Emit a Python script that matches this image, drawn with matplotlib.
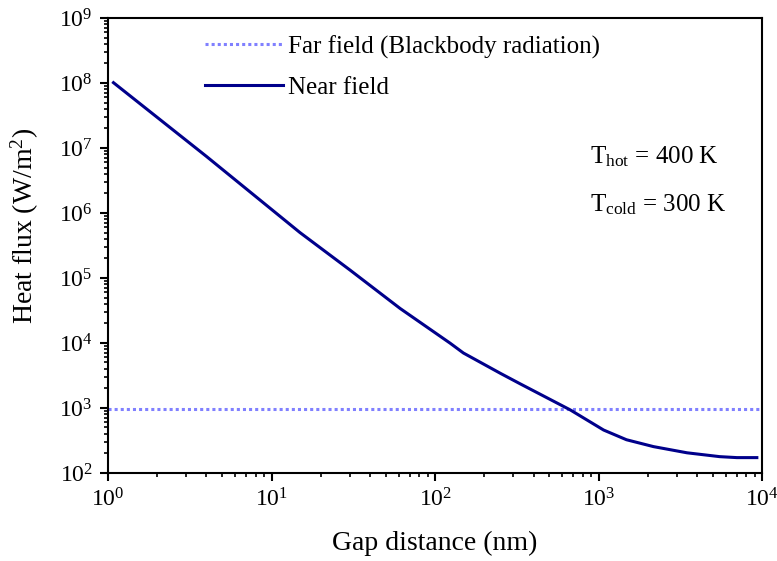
import numpy as np
import matplotlib
matplotlib.use("Agg")
import matplotlib.pyplot as plt
from matplotlib.ticker import LogLocator, NullFormatter

plt.rcParams["font.family"] = ["Liberation Serif", "DejaVu Serif"]
plt.rcParams["mathtext.fontset"] = "custom"
plt.rcParams["mathtext.rm"] = "Liberation Serif"
plt.rcParams["mathtext.default"] = "regular"

# 近场曲线
gap_nm = [1.08, 4.0, 14.9, 30.2, 61.1, 123.6, 148.9, 251, 331, 670,
          1072, 1479, 2163, 3467, 5495, 7000, 9268]
near_flux = [1.01e8, 7.4e6, 5.0e5, 1.32e5, 3.39e4, 9.9e3, 7.0e3, 3.4e3, 2.35e3, 933,
             457, 324, 254, 204, 178, 172, 172]
# 远场 (黑体辐射)
far_x = [1, 1e4]
far_flux = [950, 950]

fig = plt.figure(figsize=(7.77, 5.61), dpi=100)
ax = fig.add_axes([0.139, 0.157, 0.842, 0.811])

ax.plot(far_x, far_flux, color="#8080ff", lw=2.2, ls=(0, (1, 1)),
        label="Far field (Blackbody radiation)")
ax.plot(gap_nm, near_flux, color="#00008b", lw=2.2, label="Near field")

ax.set_xscale("log")
ax.set_yscale("log")
ax.set_xlim(1, 1e4)
ax.set_ylim(1e2, 1e9)

ax.xaxis.set_major_locator(LogLocator(base=10, numticks=10))
ax.xaxis.set_minor_locator(LogLocator(base=10, subs=np.arange(2, 10), numticks=20))
ax.yaxis.set_major_locator(LogLocator(base=10, numticks=12))
ax.yaxis.set_minor_locator(LogLocator(base=10, subs=np.arange(2, 10), numticks=20))
ax.xaxis.set_minor_formatter(NullFormatter())
ax.yaxis.set_minor_formatter(NullFormatter())

for s in ax.spines.values():
    s.set_linewidth(1.5)
ax.tick_params(which="major", direction="out", length=6, width=1.5, labelsize=17,
               pad=5, top=False, right=False)
ax.tick_params(which="minor", direction="out", length=3, width=1.2,
               top=False, right=False)

ax.set_xlabel("Gap distance (nm)", fontsize=20)
ax.set_ylabel("Heat flux (W/m$^2$)", fontsize=20)
ax.xaxis.set_label_coords(0.5, -0.128)
ax.yaxis.set_label_coords(-0.103, 0.543)

ax.text(0.736, 0.681, "T$_{hot}$ = 400 K", transform=ax.transAxes, fontsize=18,
        va="baseline")
ax.text(0.736, 0.574, "T$_{cold}$ = 300 K", transform=ax.transAxes, fontsize=18,
        va="baseline")

ax.legend(loc="upper left", bbox_to_anchor=(0.149, 0.962), frameon=False, fontsize=18,
          handlelength=3.1, handletextpad=0.2, labelspacing=0.72,
          borderpad=0, borderaxespad=0)

fig.savefig("out.png", dpi=100)
